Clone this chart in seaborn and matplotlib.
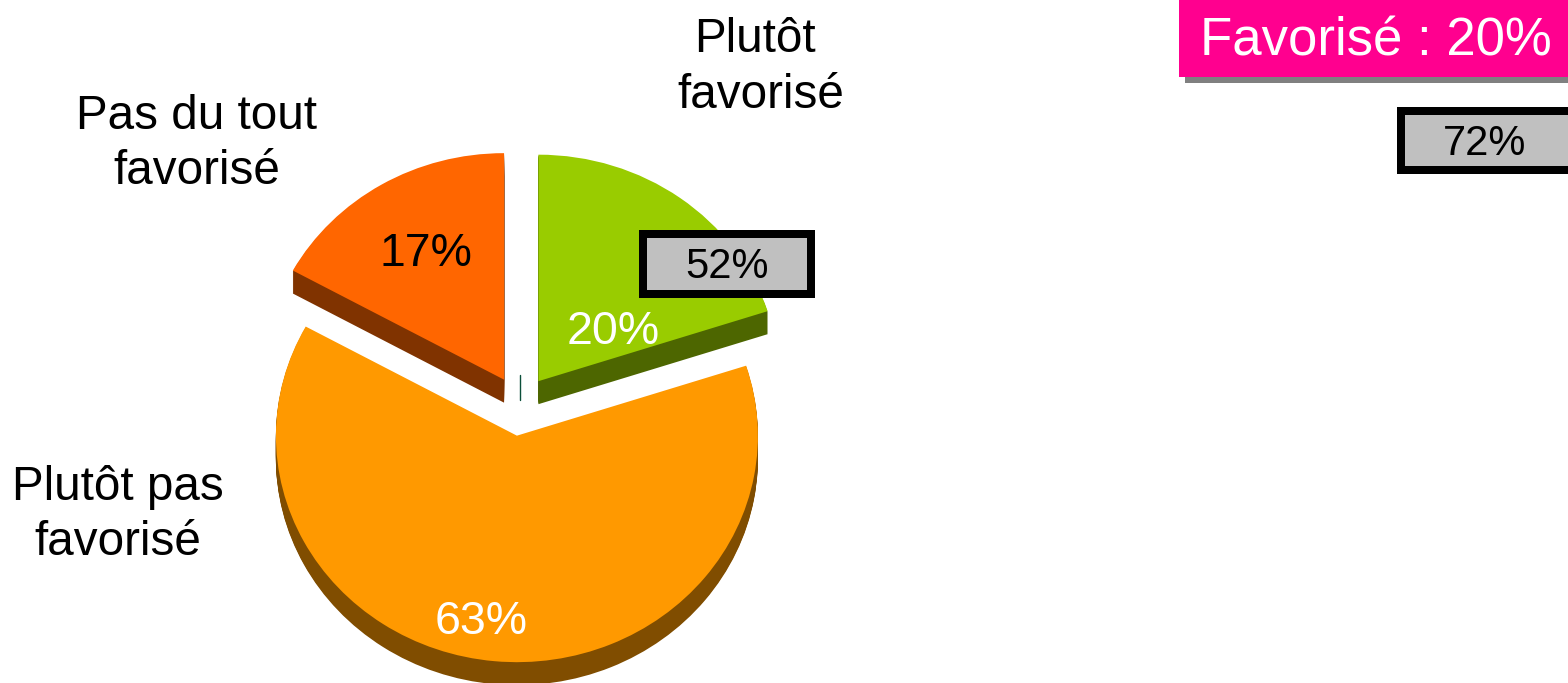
import matplotlib
matplotlib.use("Agg")
import matplotlib.pyplot as plt
from matplotlib.patches import Rectangle
import seaborn as sns

sns.set_theme(style="white")
plt.rcParams["font.family"] = ["Liberation Sans", "DejaVu Sans"]

# Data
categories = ["Plutôt\nfavorisé", "Plutôt pas\nfavorisé", "Pas du tout\nfavorisé"]
values = [20, 63, 17]
value_labels = ["20%", "63%", "17%"]
top_colors = sns.color_palette(["#99CC00", "#FF9900", "#FF6600"])
side_colors = sns.color_palette(["#4D6600", "#804D00", "#803300"])
explode = [0.13, 0.136, 0.13]
summary_label = "Favorisé : 20%"
box_labels = ["52%", "72%"]

W, H = 1568, 683
RX, RY = 241.0, 226.5
CX, CY = 520.0, 405.0
DEPTH = 23

fig = plt.figure(figsize=(W / 100, H / 100), dpi=100, facecolor="white")
ax = fig.add_axes([0, 0, 1, 1])

# extruded side, then the top face
for k in range(DEPTH, 0, -1):
    ax.pie(values, colors=side_colors, explode=explode, startangle=90,
           counterclock=False, center=(0, -k / RY), radius=1,
           wedgeprops={"linewidth": 0})
ax.pie(values, colors=top_colors, explode=explode, startangle=90,
       counterclock=False, center=(0, 0), radius=1,
       wedgeprops={"linewidth": 0})
ax.set_aspect("auto")
ax.set_xlim(-CX / RX, (W - CX) / RX)
ax.set_ylim((CY - H) / RY, CY / RY)
ax.axis("off")

# overlay in pixel coordinates for labels and boxes
ov = fig.add_axes([0, 0, 1, 1], facecolor="none")
ov.set_xlim(0, W)
ov.set_ylim(H, 0)
ov.axis("off")

label_font = 34.3
first_line, second_line = categories[0].split("\n")
ov.text(755, 52, first_line, ha="center", va="baseline", fontsize=label_font, color="black")
ov.text(761, 108, second_line, ha="center", va="baseline", fontsize=label_font, color="black")
ov.text(118, 515, categories[1], ha="center", va="center", fontsize=label_font,
        color="black", linespacing=1.31)
ov.text(197, 144, categories[2], ha="center", va="center", fontsize=label_font,
        color="black", linespacing=1.31)

ov.text(613, 332, value_labels[0], ha="center", va="center", fontsize=33.5, color="white")
ov.text(481, 622, value_labels[1], ha="center", va="center", fontsize=33.5, color="white")
ov.text(426, 254, value_labels[2], ha="center", va="center", fontsize=33.5, color="black")

# thin stray tick between the slices
ov.plot([520.5, 520.5], [375, 400], color="#0B4F3A", lw=1)

# boxes
def grey_box(x0, y0, x1, y1, text, tx):
    b = 8
    ov.add_patch(Rectangle((x0 + b / 2, y0 + b / 2), x1 - x0 - b, y1 - y0 - b,
                           facecolor="#C0C0C0", edgecolor="black", linewidth=b * 0.72,
                           joinstyle="miter", clip_on=True))
    ov.text(tx, (y0 + y1) / 2 + 3.5, text, ha="center", va="center", fontsize=30, color="black")

grey_box(639, 230, 815, 298, box_labels[0], 727)
grey_box(1397, 107, 1576, 174, box_labels[1], 1485)

# summary banner with shadow
ov.add_patch(Rectangle((1185, 6), 400, 77, facecolor="#808080", edgecolor="none"))
ov.add_patch(Rectangle((1179, 0), 400, 77, facecolor="#FF008F", edgecolor="none"))
ov.text(1376, 42, summary_label, ha="center", va="center", fontsize=38, color="white")

fig.savefig("out.png", dpi=100, facecolor="white")
